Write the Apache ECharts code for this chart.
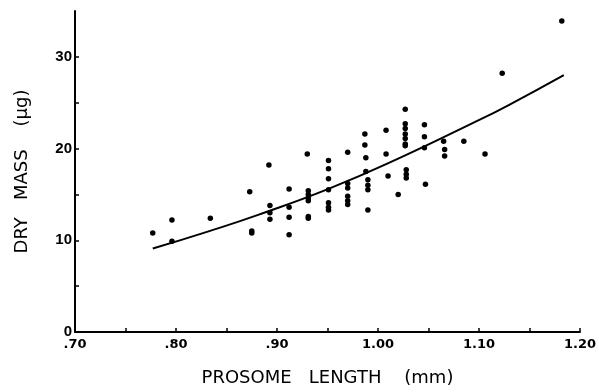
<!DOCTYPE html>
<html>
<head>
<meta charset="utf-8">
<script src="https://cdn.jsdelivr.net/npm/echarts@6/dist/echarts.min.js"></script>
<style>
  html, body { margin: 0; padding: 0; background: #fff; }
  #chart { width: 599px; height: 392px; }
</style>
</head>
<body>
<div id="chart"></div>
<script type="text/javascript">
    // prosome length (mm) / dry mass (ug)
    var lenX = [0.777, 0.796, 0.796, 0.834, 0.873, 0.875, 0.875, 0.892, 0.893, 0.893, 0.893,
        0.912, 0.912, 0.912, 0.912, 0.930, 0.931, 0.931, 0.931, 0.931, 0.931, 0.931,
        0.951, 0.951, 0.951, 0.951, 0.951, 0.951, 0.951, 0.970, 0.970, 0.970, 0.970, 0.970, 0.970,
        0.987, 0.987, 0.988, 0.988, 0.990, 0.990, 0.990, 0.990, 1.008, 1.008, 1.010, 1.020,
        1.027, 1.027, 1.027, 1.027, 1.027, 1.027, 1.027, 1.028, 1.028, 1.028,
        1.046, 1.046, 1.046, 1.047, 1.065, 1.066, 1.066, 1.085, 1.106, 1.123, 1.182];
    var massY = [10.8, 12.2, 9.9, 12.4, 15.3, 10.8, 11.0, 18.2, 13.8, 13.0, 12.3,
        15.6, 13.6, 12.5, 10.6, 19.4, 15.4, 15.0, 14.6, 14.3, 12.6, 12.4,
        18.7, 17.8, 16.7, 15.5, 14.1, 13.6, 13.3, 19.6, 16.2, 15.7, 14.8, 14.3, 13.9,
        21.6, 20.4, 19.0, 17.5, 16.6, 16.0, 15.5, 13.3, 22.0, 19.4, 17.0, 15.0,
        24.3, 22.7, 22.2, 21.6, 21.1, 20.5, 20.3, 17.7, 17.2, 16.8,
        22.6, 21.3, 20.1, 16.1, 20.8, 19.9, 19.2, 20.8, 19.4, 28.2, 33.9];

    // fitted curve, points
    var curveX = [0.777, 0.833, 0.882, 0.951, 1.020, 1.109, 1.129, 1.184];
    var curveY = [9.1, 11.0, 12.8, 15.6, 18.9, 23.6, 24.7, 28.0];

    var xTicks = ['.70', '.80', '.90', '1.00', '1.10', '1.20'];
    var yTicks = ['0', '10', '20', '30'];

    var pts = lenX.map(function (x, i) { return [x, massY[i]]; });
    var curve = curveX.map(function (x, i) { return [x, curveY[i]]; });

    var chart = echarts.init(document.getElementById('chart'));

    var option = {
        animation: false,
        grid: { left: 75, right: 14, top: 11, bottom: 56 },
        xAxis: {
            type: 'value',
            min: 0.7,
            max: 1.2,
            interval: 0.05,
            name: 'PROSOME   LENGTH    (mm)',
            nameLocation: 'middle',
            nameGap: 37,
            nameTextStyle: { color: '#000', fontSize: 18, fontFamily: 'DejaVu Sans' },
            splitLine: { show: false },
            axisLine: { onZero: false, lineStyle: { color: '#000', width: 2 } },
            axisTick: { inside: true, length: 4, lineStyle: { color: '#000', width: 1.5 } },
            axisLabel: {
                color: '#000',
                fontSize: 13,
                fontWeight: 'bold',
                fontFamily: 'DejaVu Sans',
                margin: 6,
                formatter: function (v) {
                    var r = Math.round(v * 100);
                    if (r % 10 !== 0) return '';
                    return xTicks[(r - 70) / 10];
                }
            }
        },
        yAxis: {
            type: 'value',
            min: 0,
            max: 35,
            interval: 5,
            name: 'DRY   MASS    (\u03bcg)',
            nameLocation: 'middle',
            nameGap: 44,
            nameTextStyle: { color: '#000', fontSize: 18, fontFamily: 'DejaVu Sans' },
            splitLine: { show: false },
            axisLine: { show: true, lineStyle: { color: '#000', width: 2 } },
            axisTick: { show: true, inside: true, length: 4, lineStyle: { color: '#000', width: 1.5 } },
            axisLabel: {
                color: '#000',
                fontSize: 15,
                fontWeight: 'bold',
                fontFamily: 'Liberation Sans Narrow, Liberation Sans',
                margin: 3,
                showMaxLabel: false,
                formatter: function (v) {
                    if (v % 10 !== 0) return '';
                    return yTicks[v / 10];
                }
            }
        },
        series: [{
            name: 'fit',
            type: 'line',
            data: curve,
            smooth: true,
            showSymbol: false,
            lineStyle: { color: '#000', width: 2 }
        }, {
            name: 'obs',
            type: 'scatter',
            data: pts,
            symbolSize: 5.5,
            itemStyle: { color: '#000', opacity: 1 }
        }]
    };

    chart.setOption(option);
</script>
</body>
</html>
